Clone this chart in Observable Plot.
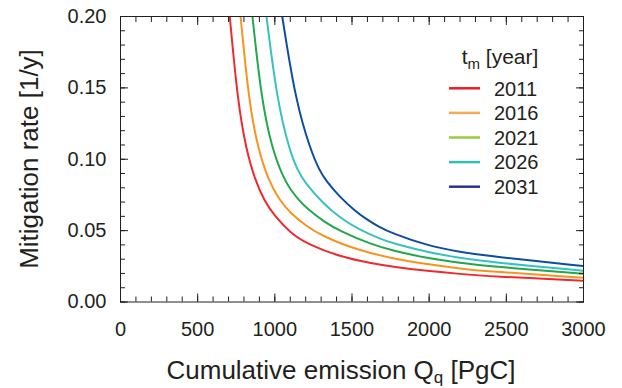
<!DOCTYPE html>
<html><head><meta charset="utf-8">
<script src="https://cdn.jsdelivr.net/npm/d3@7"></script>
<script src="https://cdn.jsdelivr.net/npm/@observablehq/plot@0.6"></script>
<style>body{margin:0;background:#fff;} svg{display:block;}</style>
</head><body><div id="chart"></div>
<script>
// ---- data ----
const years = ["2011", "2016", "2021", "2026", "2031"];
const lineColors = ["#ee2a2e", "#f7941e", "#21a84b", "#36c2c0", "#0c4da2"];
const legendColors = ["#ed1c24", "#fba85b", "#9ccb3b", "#2fbdbd", "#2e3192"];

const q2011 = [708, 760, 815, 875, 933, 993, 1102, 1210, 1426, 1620, 1771, 1987, 2203, 2397, 3000];
const r2011 = [0.2000, 0.1400, 0.1062, 0.0846, 0.0708, 0.0610, 0.0482, 0.0407, 0.0316, 0.0272, 0.0246, 0.0218, 0.0196, 0.0180, 0.0149];

const q2016 = [778, 831, 890, 961, 1026, 1102, 1210, 1317, 1469, 1620, 1771, 1987, 2203, 2397, 3000];
const r2016 = [0.2000, 0.1414, 0.1074, 0.0847, 0.0720, 0.0622, 0.0526, 0.0459, 0.0391, 0.0342, 0.0304, 0.0264, 0.0234, 0.0213, 0.0170];

const q2021 = [855, 914, 983, 1058, 1102, 1160, 1210, 1317, 1426, 1620, 1771, 1987, 2203, 2397, 3000];
const r2021 = [0.2000, 0.1412, 0.1068, 0.0864, 0.0787, 0.0708, 0.0654, 0.0563, 0.0494, 0.0406, 0.0357, 0.0307, 0.0273, 0.0249, 0.0198];

const q2026 = [946, 1015, 1097, 1149, 1188, 1317, 1426, 1534, 1685, 1771, 1987, 2203, 2397, 3000];
const r2026 = [0.2000, 0.1408, 0.1055, 0.0921, 0.0846, 0.0685, 0.0588, 0.0514, 0.0441, 0.0409, 0.0349, 0.0307, 0.0279, 0.0219];

const q2031 = [1048, 1134, 1232, 1290, 1330, 1422, 1517, 1590, 1663, 1766, 1987, 2203, 2397, 3000];
const r2031 = [0.2000, 0.1411, 0.1061, 0.0921, 0.0851, 0.0734, 0.0641, 0.0582, 0.0533, 0.0478, 0.0396, 0.0349, 0.0321, 0.0251];

const xTickLabels = [0, 500, 1000, 1500, 2000, 2500, 3000];
const yTickLabels = [0, 0.05, 0.10, 0.15, 0.20];
const xMinor = d3.range(0, 3001, 100);
const yMinor = d3.range(0, 21, 1).map(d => d / 100);

// ---- build table ----
const series = [[q2011, r2011], [q2016, r2016], [q2021, r2021], [q2026, r2026], [q2031, r2031]];
const rows = [];
series.forEach(([qs, rs], i) => qs.forEach((q, j) => rows.push({year: years[i], q, r: rs[j]})));

const FONT = "'Liberation Sans', Arial, Helvetica, sans-serif";
const INK = "#231f20";

const chart = Plot.plot({
  width: 622, height: 388,
  marginLeft: 120, marginRight: 39, marginTop: 16, marginBottom: 86.5,
  x: {domain: [0, 3000]},
  y: {domain: [0, 0.2]},
  color: {domain: years, range: lineColors},
  style: {fontFamily: FONT, fontSize: "20px", color: INK, background: "#fff"},
  marks: [
    Plot.line(rows, {x: "q", y: "r", z: "year", stroke: "year", strokeWidth: 2, curve: "basis", clip: true}),
    // minor ticks (inward) on all four sides
    Plot.axisX({anchor: "bottom", ticks: xMinor, tickSize: -5, fill: "none", label: null}),
    Plot.axisX({anchor: "top", ticks: xMinor, tickSize: -5, fill: "none", label: null}),
    Plot.axisY({anchor: "left", ticks: yMinor, tickSize: -5, fill: "none", label: null}),
    Plot.axisY({anchor: "right", ticks: yMinor, tickSize: -5, fill: "none", label: null}),
    // major ticks (inward)
    Plot.axisX({anchor: "bottom", ticks: xTickLabels, tickSize: -8, fill: "none", label: null}),
    Plot.axisX({anchor: "top", ticks: xTickLabels, tickSize: -8, fill: "none", label: null}),
    Plot.axisY({anchor: "left", ticks: yTickLabels, tickSize: -8, fill: "none", label: null}),
    Plot.axisY({anchor: "right", ticks: yTickLabels, tickSize: -8, fill: "none", label: null}),
    // tick labels
    Plot.axisX({anchor: "bottom", ticks: xTickLabels, tickSize: 0, tickPadding: 19.5, stroke: "none", label: null, tickFormat: d => String(d)}),
    Plot.axisY({anchor: "left", ticks: yTickLabels, tickSize: 0, tickPadding: 14, stroke: "none", label: null, tickFormat: d => d.toFixed(2)}),
    Plot.frame({stroke: INK, strokeWidth: 1})
  ]
});

document.getElementById("chart").appendChild(chart);

// ---- axis titles and legend (with subscripts) ----
const svg = d3.select(chart);
const xt = svg.append("text").attr("x", 341).attr("y", 379).attr("text-anchor", "middle")
  .attr("font-family", FONT).attr("font-size", 26).attr("fill", INK);
xt.append("tspan").text("Cumulative emission Q");
xt.append("tspan").attr("font-size", 17).attr("dy", 4).text("q");
xt.append("tspan").attr("dy", -4).text(" [PgC]");

svg.append("text").attr("transform", "translate(38,159) rotate(-90)").attr("text-anchor", "middle")
  .attr("font-family", FONT).attr("font-size", 26).attr("fill", INK)
  .text("Mitigation rate [1/y]");

const lg = svg.append("g").attr("font-family", FONT).attr("fill", INK);
const lt = lg.append("text").attr("x", 500).attr("y", 63.5).attr("text-anchor", "middle").attr("font-size", 21);
lt.append("tspan").text("t");
lt.append("tspan").attr("font-size", 15).attr("dy", 5).text("m");
lt.append("tspan").attr("dy", -5).text(" [year]");

years.forEach((yr, i) => {
  const cy = 88.3 + i * 24.6;
  lg.append("line").attr("x1", 449).attr("x2", 480).attr("y1", cy).attr("y2", cy)
    .attr("stroke", legendColors[i]).attr("stroke-width", 2.5);
  lg.append("text").attr("x", 494).attr("y", cy + 7.2).attr("text-anchor", "start")
    .attr("font-size", 20).text(yr);
});
</script>
</body></html>
